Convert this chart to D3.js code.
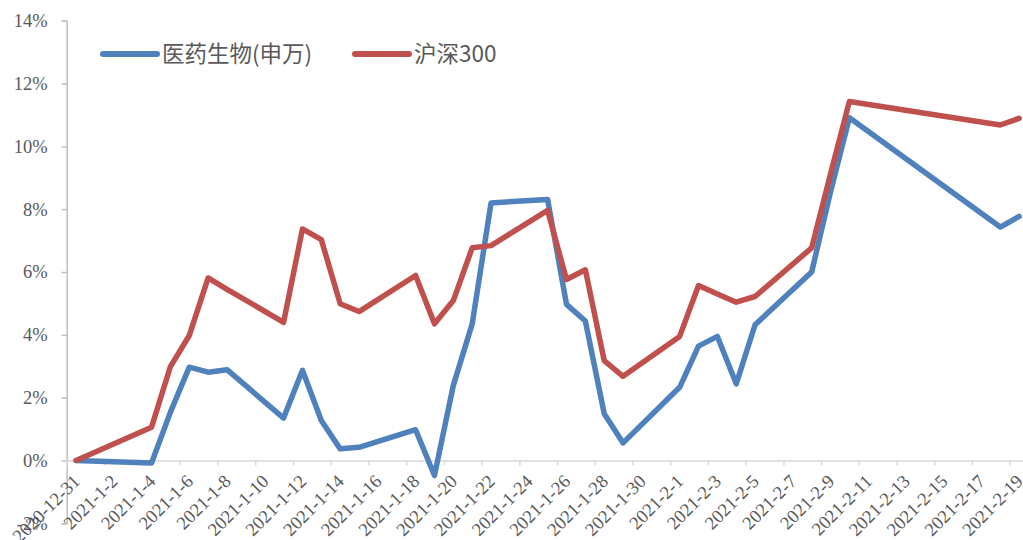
<!DOCTYPE html>
<html>
<head>
<meta charset="utf-8">
<script src="https://cdn.jsdelivr.net/npm/d3@7"></script>
<style>
  body { margin: 0; background: #fff; }
  svg { display: block; }
</style>
</head>
<body>
<svg id="chart" width="1023" height="540"></svg>
<script>
'use strict';

// trading days
var dates = ["2020-12-31","2021-01-04","2021-01-05","2021-01-06","2021-01-07","2021-01-08",
  "2021-01-11","2021-01-12","2021-01-13","2021-01-14","2021-01-15",
  "2021-01-18","2021-01-19","2021-01-20","2021-01-21","2021-01-22",
  "2021-01-25","2021-01-26","2021-01-27","2021-01-28","2021-01-29",
  "2021-02-01","2021-02-02","2021-02-03","2021-02-04","2021-02-05",
  "2021-02-08","2021-02-09","2021-02-10","2021-02-18","2021-02-19"];

// cumulative return, %
var bio = [0, -0.08, 1.54, 2.97, 2.81, 2.89, 1.35, 2.87, 1.27, 0.37, 0.42,
  0.98, -0.48, 2.39, 4.35, 8.20, 8.31, 4.97, 4.44, 1.49, 0.56,
  2.33, 3.64, 3.95, 2.44, 4.32, 6.00, 8.55, 10.91, 7.43, 7.77];
var hs300 = [0, 1.06, 2.99, 3.98, 5.81, 5.45, 4.40, 7.37, 7.03, 4.99, 4.74,
  5.89, 4.35, 5.09, 6.77, 6.84, 7.96, 5.76, 6.07, 3.18, 2.68,
  3.95, 5.57, 5.30, 5.04, 5.22, 6.77, 9.12, 11.43, 10.68, 10.89];

var seriesNames = ["医药生物(申万)", "沪深300"];
var seriesColors = ["#4F81BD", "#C0504D"];
var yTicks = [-2, 0, 2, 4, 6, 8, 10, 12, 14];

var parse = d3.utcParse("%Y-%m-%d");
var start = parse("2020-12-31");
var end = parse("2021-02-20");

var svg = d3.select("#chart");
var plotLeft = 66.7, plotTop = 20.7, plotBottom = 523.3;

var x = d3.scaleUtc().domain([start, end]).range([plotLeft, plotLeft + 51 * 18.86]);
var y = d3.scaleLinear().domain([-2, 14]).range([plotBottom, plotTop]);

var mid = function(d) { return d3.utcHour.offset(d, 12); };

// y axis
var yAxis = d3.axisLeft(y).tickValues(yTicks).tickSize(5).tickPadding(14)
  .tickFormat(function(d) { return d + "%"; });
var gy = svg.append("g").attr("transform", "translate(" + plotLeft + ",0)").call(yAxis);
gy.select(".domain").attr("stroke", "#BFBFBF").attr("stroke-width", 1.5);
gy.selectAll(".tick line").attr("stroke", "#BFBFBF").attr("stroke-width", 1.5);
gy.selectAll(".tick text")
  .attr("fill", "#595959")
  .style("font-family", "'Liberation Serif', 'Times New Roman', serif")
  .style("font-size", "18.5px");

// x axis at 0%
var xTickDates = d3.range(0, 51, 2).map(function(k) { return d3.utcDay.offset(start, k); });
var fmt = function(d) { return d.getUTCFullYear() + "-" + (d.getUTCMonth() + 1) + "-" + d.getUTCDate(); };
var xAxis = d3.axisBottom(x).tickValues(xTickDates).tickSize(5).tickFormat("");
var gx = svg.append("g").attr("transform", "translate(0," + y(0) + ")").call(xAxis);
gx.select(".domain").attr("stroke", "#D9D9D9").attr("stroke-width", 1.5);
gx.selectAll(".tick line").attr("stroke", "#D9D9D9").attr("stroke-width", 1.5);

svg.append("g").selectAll("text")
  .data(xTickDates)
  .enter().append("text")
    .attr("transform", function(d) { return "translate(" + (x(mid(d)) + 5) + "," + (y(0) + 22) + ") rotate(-45)"; })
    .attr("text-anchor", "end")
    .attr("fill", "#595959")
    .style("font-family", "'Liberation Serif', 'Times New Roman', serif")
    .style("font-size", "18.5px")
    .text(fmt);

// lines
var line = d3.line()
  .x(function(d) { return x(mid(d.date)); })
  .y(function(d) { return y(d.value); });

[bio, hs300].forEach(function(vals, i) {
  var pts = dates.map(function(s, j) { return { date: parse(s), value: vals[j] }; });
  svg.append("path")
    .datum(pts)
    .attr("fill", "none")
    .attr("stroke", seriesColors[i])
    .attr("stroke-width", 5.5)
    .attr("stroke-linejoin", "round")
    .attr("stroke-linecap", "round")
    .attr("d", line);
});

// legend
var legendX = [103, 355];
var legend = svg.append("g");
seriesNames.forEach(function(name, i) {
  legend.append("line")
    .attr("x1", legendX[i]).attr("x2", legendX[i] + 54)
    .attr("y1", 54).attr("y2", 54)
    .attr("stroke", seriesColors[i]).attr("stroke-width", 6)
    .attr("stroke-linecap", "round");
  legend.append("text")
    .attr("x", legendX[i] + 59).attr("y", 54).attr("dy", "0.36em")
    .attr("fill", "#595959")
    .style("font-family", "'Noto Sans CJK SC', 'Noto Sans', sans-serif")
    .style("font-size", "22.5px")
    .text(name);
});
</script>
</body>
</html>
